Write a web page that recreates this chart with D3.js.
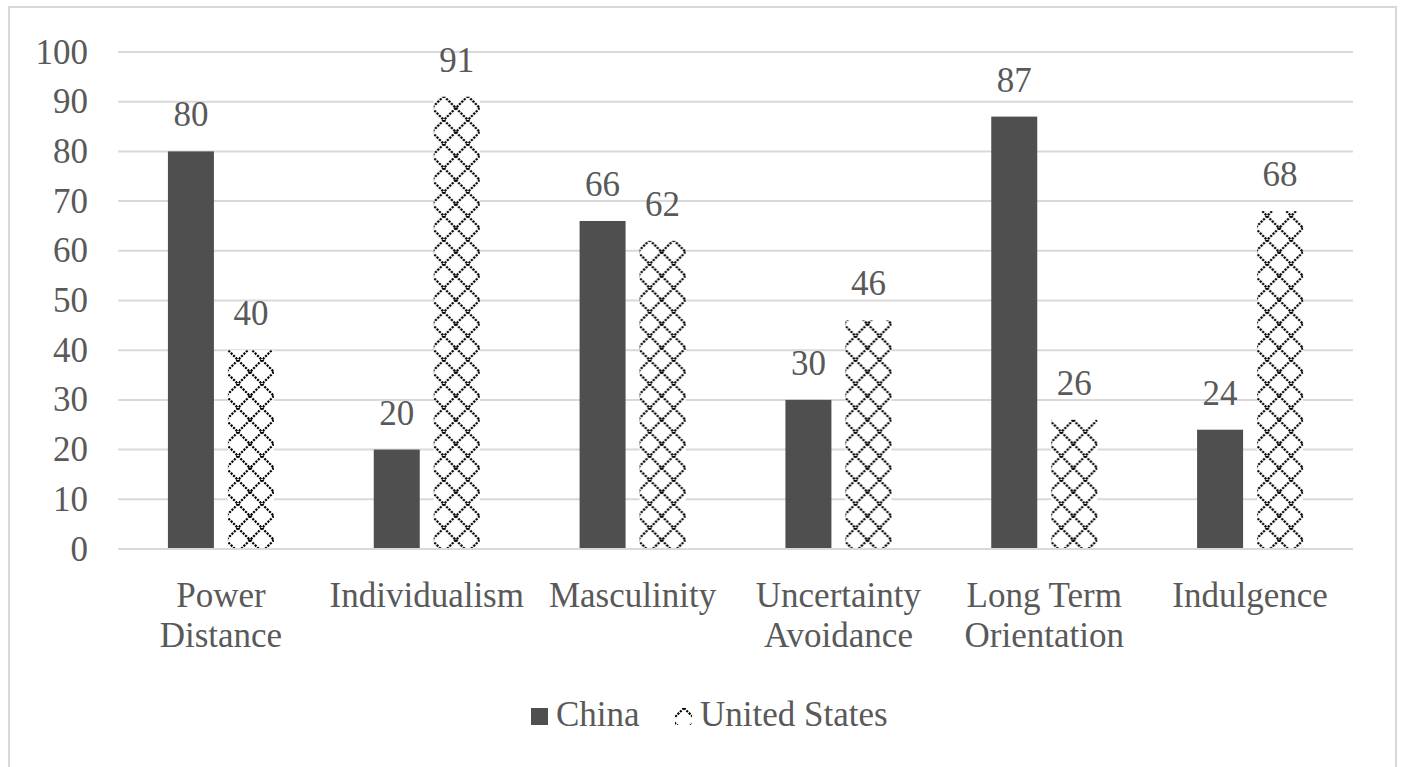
<!DOCTYPE html>
<html>
<head>
<meta charset="utf-8">
<script src="https://cdn.jsdelivr.net/npm/d3@7"></script>
</head>
<body style="margin:0">
<svg id="chart" width="1401" height="767"></svg>
<script>
// Hofstede cultural dimension scores
const categories = [
  ["Power", "Distance"],
  ["Individualism"],
  ["Masculinity"],
  ["Uncertainty", "Avoidance"],
  ["Long Term", "Orientation"],
  ["Indulgence"]
];
const seriesNames = ["China", "United States"];
const chinaValues = [80, 20, 66, 30, 87, 24];
const usValues = [40, 91, 62, 46, 26, 68];
const yTicks = [0, 10, 20, 30, 40, 50, 60, 70, 80, 90, 100];

const FONT_SIZE = 35;
const TEXT_COLOR = "#595959";

const svg = d3.select("#chart");
const plot = { left: 118, right: 1353, top: 52, bottom: 549 };

// Chart frame
svg.append("rect")
  .attr("x", 9).attr("y", 7).attr("width", 1387).attr("height", 780)
  .attr("fill", "#fff").attr("stroke", "#d9d9d9").attr("stroke-width", 2);

// Diamond lattice pattern for the second series
const defs = svg.append("defs");
const pat = defs.append("pattern")
  .attr("id", "diamond")
  .attr("patternUnits", "userSpaceOnUse")
  .attr("width", 24).attr("height", 24);
pat.append("rect").attr("width", 24).attr("height", 24).attr("fill", "#fff");
pat.append("path")
  .attr("d", "M0,0 L24,24 M24,0 L0,24")
  .attr("stroke", "#000")
  .attr("stroke-width", 2.2)
  .attr("stroke-dasharray", "2.2,1.2")
  .attr("fill", "none");

const x0 = d3.scaleBand()
  .domain(d3.range(categories.length))
  .range([plot.left, plot.right]);

const groupW = 106;
const x1 = d3.scaleBand()
  .domain(seriesNames)
  .range([x0.bandwidth() / 2 - groupW / 2, x0.bandwidth() / 2 + groupW / 2])
  .paddingInner(14 / 60).paddingOuter(0);

const y = d3.scaleLinear().domain([0, 100]).range([plot.bottom, plot.top]);

// Gridlines
svg.append("g")
  .selectAll("line")
  .data(yTicks)
  .join("line")
  .attr("x1", plot.left).attr("x2", plot.right)
  .attr("y1", d => y(d)).attr("y2", d => y(d))
  .attr("stroke", "#d9d9d9").attr("stroke-width", 2);

// Y axis labels (drawn as plain text so the serif face applies)
svg.append("g")
  .selectAll("text")
  .data(yTicks)
  .join("text")
  .attr("x", 88)
  .attr("y", d => y(d))
  .attr("dy", "0.33em")
  .attr("text-anchor", "end")
  .attr("font-family", "\"Liberation Serif\"")
  .attr("font-size", FONT_SIZE)
  .attr("fill", TEXT_COLOR)
  .text(d => d);

const data = categories.map((c, i) => ({
  i,
  values: [
    { s: "China", v: chinaValues[i] },
    { s: "United States", v: usValues[i] }
  ]
}));

const fills = { "China": "#4f4f4f", "United States": "url(#diamond)" };

const groups = svg.append("g")
  .selectAll("g")
  .data(data)
  .join("g")
  .attr("transform", d => `translate(${x0(d.i)},0)`);

groups.selectAll("rect")
  .data(d => d.values)
  .join("rect")
  .attr("x", d => x1(d.s))
  .attr("width", x1.bandwidth())
  .attr("y", d => y(d.v))
  .attr("height", d => y(0) - y(d.v))
  .attr("fill", d => fills[d.s]);

// Baseline drawn over the bars
svg.append("line")
  .attr("x1", plot.left).attr("x2", plot.right)
  .attr("y1", y(0)).attr("y2", y(0))
  .attr("stroke", "#d9d9d9").attr("stroke-width", 2);

// Value labels
svg.append("g")
  .selectAll("text")
  .data(data.flatMap(d => d.values.map(v => ({ i: d.i, s: v.s, v: v.v }))))
  .join("text")
  .attr("x", d => x0(d.i) + x1(d.s) + x1.bandwidth() / 2)
  .attr("y", d => y(d.v) - 25)
  .attr("text-anchor", "middle")
  .attr("font-family", "\"Times New Roman\"")
  .attr("font-size", FONT_SIZE)
  .attr("fill", TEXT_COLOR)
  .text(d => d.v);

// Category labels, one text element per line
const catLines = categories.flatMap((lines, i) => lines.map((l, k) => ({ i, k, l })));
svg.append("g")
  .selectAll("text")
  .data(catLines)
  .join("text")
  .attr("x", d => x0(d.i) + x0.bandwidth() / 2)
  .attr("y", d => 607 + d.k * 40)
  .attr("text-anchor", "middle")
  .style("font-family", "Tinos")
  .style("font-size", FONT_SIZE + "px")
  .attr("fill", TEXT_COLOR)
  .text(d => d.l);

// Legend
const legendItems = [
  { name: "China", x: 531 },
  { name: "United States", x: 675 }
];
const lg = svg.append("g");
lg.selectAll("rect")
  .data(legendItems)
  .join("rect")
  .attr("x", d => d.x).attr("y", 708)
  .attr("width", 17).attr("height", 17)
  .attr("fill", d => fills[d.name]);
lg.selectAll("text")
  .data(legendItems)
  .join("text")
  .attr("x", d => d.x + 25).attr("y", 726)
  .attr("font-family", "\"Liberation Serif\"")
  .attr("font-size", FONT_SIZE)
  .attr("fill", TEXT_COLOR)
  .text(d => d.name);
</script>
</body>
</html>
